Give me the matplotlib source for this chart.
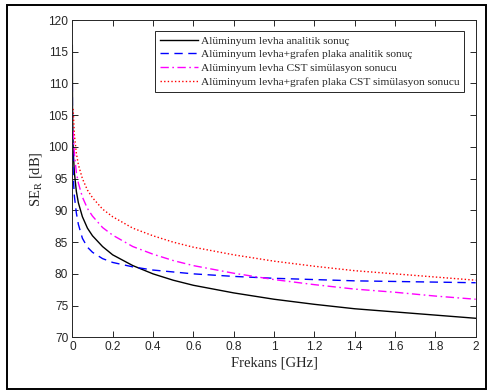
"""Reflection shielding effectiveness: aluminium sheet vs. aluminium + graphene plate."""

import matplotlib
matplotlib.use("Agg")
import matplotlib.pyplot as plt
import matplotlib.patches as mpatches

# ── data (frequency in GHz, SE_R in dB) ────────────────────────────────────────
freq_analytic = [0.0001, 0.001, 0.002, 0.005, 0.01, 0.02, 0.03, 0.05, 0.075, 0.1,
                 0.15, 0.2, 0.3, 0.4, 0.5, 0.6, 0.8, 1.0, 1.2, 1.4, 1.6, 1.8, 2.0]
al_analytic = [116, 106, 103, 99, 96, 93, 91.2, 89, 87.2, 86,
               84.3, 83, 81.3, 80, 79, 78.2, 77, 76, 75.2, 74.5, 74, 73.5, 73]
al_gr_analytic = [110, 102, 99, 95, 92.3, 89.6, 87.8, 85.6, 84.2, 83.4,
                  82.4, 81.8, 81.1, 80.6, 80.3, 80.0, 79.6, 79.3, 79.1, 78.9, 78.8, 78.7, 78.6]

freq_cst = [0.004, 0.01, 0.02, 0.03, 0.05, 0.075, 0.1, 0.15, 0.2, 0.3,
            0.4, 0.5, 0.6, 0.8, 1.0, 1.2, 1.4, 1.6, 1.8, 2.0]
al_cst = [102.5, 99, 96, 94.3, 92.1, 90.3, 89.1, 87.3, 86.1, 84.3,
          83.1, 82.1, 81.3, 80.1, 79.1, 78.3, 77.6, 77.1, 76.5, 76.0]
al_gr_cst = [106, 102, 99, 97.2, 95, 93.2, 92, 90.2, 89, 87.2,
             86, 85, 84.2, 83, 82, 81.2, 80.5, 80, 79.5, 79.0]

labels = [
    "Alüminyum levha analitik sonuç",
    "Alüminyum levha+grafen plaka analitik sonuç",
    "Alüminyum levha CST simülasyon sonucu",
    "Alüminyum levha+grafen plaka CST simülasyon sonucu",
]

x_ticks = [0, 0.2, 0.4, 0.6, 0.8, 1, 1.2, 1.4, 1.6, 1.8, 2]
x_ticklabels = ["0", "0.2", "0.4", "0.6", "0.8", "1", "1.2", "1.4", "1.6", "1.8", "2"]
y_ticks = list(range(70, 121, 5))

plt.rcParams["mathtext.fontset"] = "custom"
plt.rcParams["mathtext.rm"] = "Liberation Serif"
plt.rcParams["mathtext.it"] = "Liberation Serif:italic"

SERIF = "Liberation Serif"
SANS = "Liberation Sans"

# ── figure ────────────────────────────────────────────────────────────────────
fig = plt.figure(figsize=(4.87, 3.91), dpi=100)
fig.patch.set_facecolor("white")
ax = fig.add_axes([0.1485, 0.1373, 0.8283, 0.8115])

ax.plot(freq_analytic, al_analytic, color="black", lw=1.0, ls="-", label=labels[0])
ax.plot(freq_analytic, al_gr_analytic, color="blue", lw=1.0, ls=(0, (6, 4)), label=labels[1])
ax.plot(freq_cst, al_cst, color="magenta", lw=1.0, ls=(0, (6, 2.5, 1.2, 2.5)), label=labels[2])
ax.plot(freq_cst, al_gr_cst, color="red", lw=1.0, ls=(0, (1, 1.6)), label=labels[3])

ax.set_xlim(0, 2)
ax.set_ylim(70, 120)
ax.set_xticks(x_ticks)
ax.set_xticklabels(x_ticklabels)
ax.set_yticks(y_ticks)

ax.tick_params(direction="in", length=4, width=0.7, top=True, right=True,
               labelsize=8.6, colors="#262626", pad=3)
for lbl in ax.get_xticklabels() + ax.get_yticklabels():
    lbl.set_family(SANS)
for sp in ax.spines.values():
    sp.set_color("#262626")
    sp.set_linewidth(0.7)

ax.set_xlabel("Frekans [GHz]", family=SERIF, fontsize=10.5, color="#262626", labelpad=2)
ax.set_ylabel(r"SE$_\mathrm{R}$ [dB]", family=SERIF, fontsize=10.5, color="#262626", labelpad=3)

leg = ax.legend(loc="upper right", bbox_to_anchor=(0.972, 0.966),
                prop={"family": SERIF, "size": 8.2},
                handlelength=3.3, handletextpad=0.3, labelspacing=0.34,
                borderpad=0.42, borderaxespad=0.0, fancybox=False, framealpha=1)
leg.get_frame().set_edgecolor("#262626")
leg.get_frame().set_linewidth(0.7)
for t in leg.get_texts():
    t.set_color("#262626")

# outer frame around the whole figure
fig.patches.append(mpatches.Rectangle((7 / 487, 2 / 391), 478.5 / 487, 384 / 391,
                                      transform=fig.transFigure, fill=False,
                                      edgecolor="black", linewidth=1.4))

fig.savefig("out.png", dpi=100)
